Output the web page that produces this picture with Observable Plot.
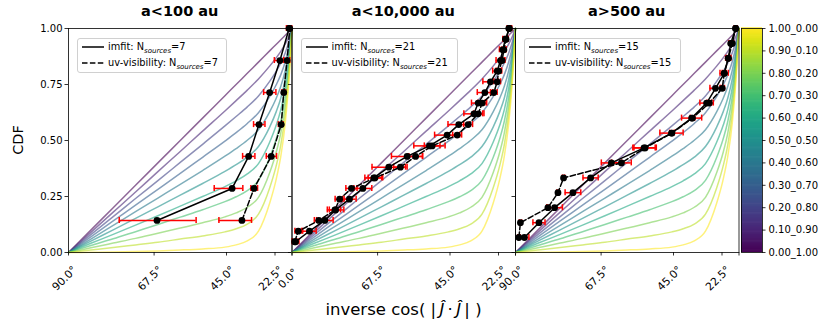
<!DOCTYPE html>
<html>
<head>
<meta charset="utf-8">
<script src="https://cdn.jsdelivr.net/npm/d3@7"></script>
<script src="https://cdn.jsdelivr.net/npm/@observablehq/plot@0.6"></script>
<style>
  body { margin: 0; background: white; }
  #chart { position: relative; width: 830px; height: 332px; font-family: "DejaVu Sans", sans-serif; overflow: hidden; }
  #chart > svg { position: absolute; left: 0; top: 0; }
  .title { position: absolute; top: 4px; font-weight: bold; font-size: 14.5px; text-align: center; line-height: 1; }
  .legend { position: absolute; top: 38px; height: 33px; border: 1px solid #d0d0d0; border-radius: 3px; background: rgba(255,255,255,0.85); font-size: 9.8px; }
  .legend .row { position: absolute; left: 3px; height: 14px; line-height: 14px; white-space: nowrap; }
  .legend .row svg { position: absolute; left: 0; top: 1px; }
  .legend .row span { position: absolute; left: 27px; top: 0; }
  .legend sub { font-style: italic; font-size: 7px; }
</style>
</head>
<body>
<div id="chart"></div>
<script>
// ---------- background model curves (CDF vs cos) ----------
const bgX  = [0,0.1,0.2,0.3,0.4,0.5,0.6,0.7,0.75,0.8,0.85,0.9,0.93,0.95,0.97,0.985,1];
const bg00 = [0,0.100,0.200,0.300,0.400,0.500,0.600,0.700,0.750,0.800,0.850,0.900,0.930,0.950,0.970,0.985,1];
const bg01 = [0,0.090,0.180,0.270,0.361,0.451,0.542,0.632,0.678,0.725,0.775,0.832,0.870,0.898,0.931,0.962,1];
const bg02 = [0,0.080,0.160,0.241,0.321,0.402,0.483,0.565,0.607,0.650,0.699,0.764,0.810,0.846,0.892,0.938,1];
const bg03 = [0,0.070,0.141,0.211,0.282,0.353,0.425,0.497,0.535,0.576,0.624,0.696,0.750,0.794,0.853,0.915,1];
const bg04 = [0,0.060,0.121,0.182,0.243,0.304,0.366,0.430,0.464,0.501,0.548,0.628,0.690,0.742,0.814,0.891,1];
const bg05 = [0,0.051,0.101,0.152,0.204,0.256,0.308,0.362,0.392,0.426,0.473,0.560,0.630,0.690,0.775,0.868,1];
const bg06 = [0,0.041,0.081,0.122,0.164,0.207,0.250,0.294,0.320,0.351,0.397,0.492,0.570,0.638,0.736,0.844,1];
const bg07 = [0,0.031,0.061,0.093,0.125,0.158,0.191,0.227,0.249,0.276,0.322,0.424,0.510,0.586,0.697,0.821,1];
const bg08 = [0,0.021,0.042,0.063,0.086,0.109,0.133,0.159,0.177,0.202,0.246,0.356,0.450,0.534,0.658,0.797,1];
const bg09 = [0,0.011,0.022,0.034,0.046,0.060,0.074,0.092,0.106,0.127,0.171,0.288,0.390,0.482,0.619,0.774,1];
const bg10 = [0,0.001,0.002,0.004,0.007,0.011,0.016,0.024,0.034,0.052,0.095,0.220,0.330,0.430,0.580,0.750,1];
const fracs = [0,0.1,0.2,0.3,0.4,0.5,0.6,0.7,0.8,0.9,1.0];
const cbarLabels = ["0.00_1.00","0.10_0.90","0.20_0.80","0.30_0.70","0.40_0.60","0.50_0.50","0.60_0.40","0.70_0.30","0.80_0.20","0.90_0.10","1.00_0.00"];

// ---------- axis ticks ----------
const xTickVals = [0, 0.383, 0.707, 0.924, 1];
const xTickLabels = ["90.0°","67.5°","45.0°","22.5°","0.0°"];
const yTickVals = [0, 0.25, 0.5, 0.75, 1];
const yTickLabels = ["0.00","0.25","0.50","0.75","1.00"];

// ---------- panel 1: a<100 au ----------
const p1Y       = [0.143,0.286,0.429,0.571,0.714,0.857,1.000];
const p1ImfitX  = [0.396,0.732,0.806,0.852,0.900,0.946,0.987];
const p1ImfitLo = [0.227,0.652,0.779,0.828,0.873,0.921,0.975];
const p1ImfitHi = [0.571,0.780,0.834,0.879,0.928,0.963,0.998];
const p1UvX     = [0.776,0.830,0.907,0.952,0.963,0.978,0.990];
const p1UvLo    = [0.673,0.816,0.885,0.939,0.955,0.963,0.982];
const p1UvHi    = [0.819,0.846,0.931,0.960,0.972,0.990,0.998];

// ---------- panel 2: a<10,000 au ----------
const p2Y       = [0.048,0.095,0.143,0.190,0.238,0.286,0.333,0.381,0.429,0.476,0.524,0.571,0.619,0.667,0.714,0.762,0.810,0.857,0.905,0.952,1.000];
const p2ImfitX  = [0.016,0.078,0.147,0.195,0.257,0.317,0.366,0.433,0.515,0.615,0.694,0.746,0.814,0.833,0.863,0.888,0.918,0.933,0.943,0.955,0.973];
const p2ImfitLo = [0.001,0.048,0.110,0.158,0.227,0.277,0.326,0.358,0.445,0.545,0.638,0.698,0.769,0.803,0.829,0.854,0.898,0.913,0.928,0.943,0.963];
const p2ImfitHi = [0.031,0.108,0.184,0.232,0.287,0.357,0.406,0.508,0.585,0.685,0.750,0.794,0.859,0.863,0.897,0.922,0.938,0.953,0.958,0.967,0.983];
const p2UvX     = [0.012,0.028,0.120,0.192,0.213,0.266,0.371,0.485,0.553,0.627,0.739,0.788,0.833,0.851,0.903,0.918,0.925,0.940,0.948,0.958,0.970];
const p2UvLo    = [0.002,0.013,0.100,0.167,0.193,0.241,0.341,0.455,0.523,0.592,0.719,0.768,0.813,0.831,0.888,0.903,0.913,0.930,0.938,0.950,0.964];
const p2UvHi    = [0.022,0.043,0.140,0.217,0.233,0.291,0.401,0.515,0.583,0.662,0.759,0.808,0.853,0.871,0.918,0.933,0.937,0.950,0.958,0.966,0.976];

// ---------- panel 3: a>500 au ----------
const p3Y       = [0.067,0.133,0.200,0.267,0.333,0.400,0.467,0.533,0.600,0.667,0.733,0.800,0.867,0.933,1.000];
const p3ImfitX  = [0.040,0.105,0.175,0.257,0.336,0.429,0.575,0.698,0.788,0.855,0.895,0.934,0.952,0.963,0.985];
const p3ImfitLo = [0.020,0.078,0.140,0.222,0.302,0.384,0.525,0.646,0.743,0.825,0.870,0.915,0.940,0.955,0.978];
const p3ImfitHi = [0.060,0.132,0.210,0.292,0.370,0.474,0.625,0.750,0.833,0.885,0.920,0.952,0.964,0.972,0.992];
const p3UvX     = [0.015,0.022,0.145,0.190,0.215,0.474,0.580,0.700,0.792,0.867,0.925,0.934,0.952,0.970,0.985];
const p3UvLo    = [0.010,0.017,0.140,0.185,0.210,0.430,0.530,0.690,0.782,0.857,0.915,0.925,0.945,0.964,0.980];
const p3UvHi    = [0.020,0.027,0.150,0.195,0.220,0.518,0.630,0.710,0.802,0.877,0.935,0.943,0.959,0.976,0.990];

const titles = ["a<100 au", "a<10,000 au", "a>500 au"];
const nSources = [7, 21, 15];

// ---------- layout ----------
const W = 830, H = 332, TOP = 28, BOTTOM = 252;
const panelLeft = [68, 291.5, 515];
const panelRight = [291.5, 515, 738.5];
const cbL = 741, cbR = 762;

const bgCurves = [bg00,bg01,bg02,bg03,bg04,bg05,bg06,bg07,bg08,bg09,bg10];

function rows(xs, ys, lo, hi) {
  return xs.map((x, i) => ({x, y: ys[i], lo: lo[i], hi: hi[i]}));
}

const panelData = [
  {imfit: rows(p1ImfitX, p1Y, p1ImfitLo, p1ImfitHi), uv: rows(p1UvX, p1Y, p1UvLo, p1UvHi),
   xLabelIdx: [0,1,2,3,4], yLabels: true},
  {imfit: rows(p2ImfitX, p2Y, p2ImfitLo, p2ImfitHi), uv: rows(p2UvX, p2Y, p2UvLo, p2UvHi),
   xLabelIdx: [1,2,3], yLabels: false},
  {imfit: rows(p3ImfitX, p3Y, p3ImfitLo, p3ImfitHi), uv: rows(p3UvX, p3Y, p3UvLo, p3UvHi),
   xLabelIdx: [0,1,2,3], yLabels: false}
];

const chart = document.getElementById("chart");
const pxY = 1 / 224, pxX = 1 / 223.5;
const tickLenX = 3.5 * pxX, tickLenY = 3.5 * pxY, capH = 3 * pxY;

panelData.forEach((p, k) => {
  const L = panelLeft[k], R = panelRight[k];
  const marks = [];
  bgCurves.forEach((c, i) => {
    marks.push(Plot.line(bgX.map((x, j) => ({x, y: c[j]})), {
      x: "x", y: "y", stroke: d3.interpolateViridis(fracs[i]), strokeOpacity: 0.6,
      strokeWidth: 1.5, curve: "monotone-x"
    }));
  });
  for (const s of [p.imfit, p.uv]) {
    marks.push(Plot.ruleY(s, {y: "y", x1: "lo", x2: "hi", stroke: "red", strokeWidth: 1.5}));
    marks.push(Plot.ruleX(s, {x: "lo", y1: d => d.y - capH, y2: d => d.y + capH, stroke: "red", strokeWidth: 1.5}));
    marks.push(Plot.ruleX(s, {x: "hi", y1: d => d.y - capH, y2: d => d.y + capH, stroke: "red", strokeWidth: 1.5}));
  }
  marks.push(Plot.line(p.imfit, {x: "x", y: "y", stroke: "black", strokeWidth: 1.5}));
  marks.push(Plot.line(p.uv, {x: "x", y: "y", stroke: "black", strokeWidth: 1.5, strokeDasharray: "5.5,2.4"}));
  marks.push(Plot.dot(p.imfit, {x: "x", y: "y", r: 3.4, fill: "black"}));
  marks.push(Plot.dot(p.uv, {x: "x", y: "y", r: 3.4, fill: "black"}));
  // ticks
  marks.push(Plot.ruleX(xTickVals, {x: d => d, y1: 0, y2: -tickLenY, stroke: "black", strokeWidth: 0.8}));
  marks.push(Plot.ruleY(yTickVals, {y: d => d, x1: 0, x2: -tickLenX, stroke: "black", strokeWidth: 0.8}));
  const labIdx = p.xLabelIdx;
  marks.push(Plot.text(labIdx, {x: i => xTickVals[i] - 4 * pxX, y: -26 * pxY, text: i => xTickLabels[i],
    rotate: -45, textAnchor: "middle", lineAnchor: "middle", fontSize: 10.8, fill: "black"}));
  if (p.yLabels) {
    marks.push(Plot.text(yTickVals, {x: -6 * pxX, y: d => d, text: (d, i) => yTickLabels[i],
      textAnchor: "end", lineAnchor: "middle", fontSize: 10, fill: "black"}));
  }
  marks.push(Plot.frame({stroke: "black", strokeWidth: 0.8}));

  const svg = Plot.plot({
    width: W, height: H,
    marginLeft: L, marginRight: W - R, marginTop: TOP, marginBottom: H - BOTTOM,
    x: {domain: [0, 1], axis: null},
    y: {domain: [0, 1], axis: null},
    style: {background: "transparent", overflow: "visible", fontFamily: "DejaVu Sans", position: "absolute", left: "0px", top: "0px"},
    marks
  });
  chart.appendChild(svg);

  // title
  const t = document.createElement("div");
  t.className = "title";
  t.style.left = L + "px";
  t.style.width = (R - L) + "px";
  t.textContent = titles[k];
  chart.appendChild(t);

  // legend
  const lg = document.createElement("div");
  lg.className = "legend";
  lg.style.left = (L + 9) + "px";
  lg.style.width = (k === 0 ? 148 : 155) + "px";
  const n = nSources[k];
  lg.innerHTML =
    `<div class="row" style="top:1px"><svg width="24" height="12"><line x1="1" x2="23" y1="6" y2="6" stroke="black" stroke-width="1.5"/></svg><span>imfit: N<sub>sources</sub>=${n}</span></div>` +
    `<div class="row" style="top:17px"><svg width="24" height="12"><line x1="1" x2="23" y1="6" y2="6" stroke="black" stroke-width="1.5" stroke-dasharray="5.5,2.4"/></svg><span>uv-visibility: N<sub>sources</sub>=${n}</span></div>`;
  chart.appendChild(lg);
});

// ---------- colorbar ----------
const cbSlices = d3.range(0, 200);
const cb = Plot.plot({
  width: W, height: H,
  marginLeft: cbL, marginRight: W - cbR, marginTop: TOP, marginBottom: H - BOTTOM,
  x: {domain: [0, 1], axis: null},
  y: {domain: [0, 1], axis: null},
  color: {type: "linear", scheme: "viridis", domain: [0, 1]},
  style: {background: "transparent", overflow: "visible", fontFamily: "DejaVu Sans", position: "absolute", left: "0px", top: "0px"},
  marks: [
    Plot.rect(cbSlices, {x1: 0, x2: 1, y1: i => i / 200, y2: i => (i + 1.6) / 200, fill: i => (i + 0.5) / 200}),
    Plot.ruleY(fracs, {y: d => d, x1: 1, x2: 1 + 3.5 / 21, stroke: "black", strokeWidth: 0.8}),
    Plot.text(fracs, {x: 1 + 6 / 21, y: d => d, text: (d, i) => cbarLabels[i], textAnchor: "start", lineAnchor: "middle", fontSize: 10, fill: "black"}),
    Plot.frame({stroke: "black", strokeWidth: 0.8})
  ]
});
chart.appendChild(cb);

// ---------- axis labels ----------
const xl = document.createElement("div");
xl.style.cssText = "position:absolute;left:68px;width:671px;top:302px;text-align:center;font-size:16.5px;line-height:1;white-space:nowrap;";
xl.innerHTML = "inverse cos( |&thinsp;<i>J&#770;</i>&thinsp;·&thinsp;<i>J&#770;</i>&thinsp;| )";
chart.appendChild(xl);

const yl = document.createElement("div");
yl.style.cssText = "position:absolute;left:18px;top:140px;font-size:14.5px;line-height:1;transform:translate(-50%,-50%) rotate(-90deg);white-space:nowrap;";
yl.textContent = "CDF";
chart.appendChild(yl);
</script>
</body>
</html>
